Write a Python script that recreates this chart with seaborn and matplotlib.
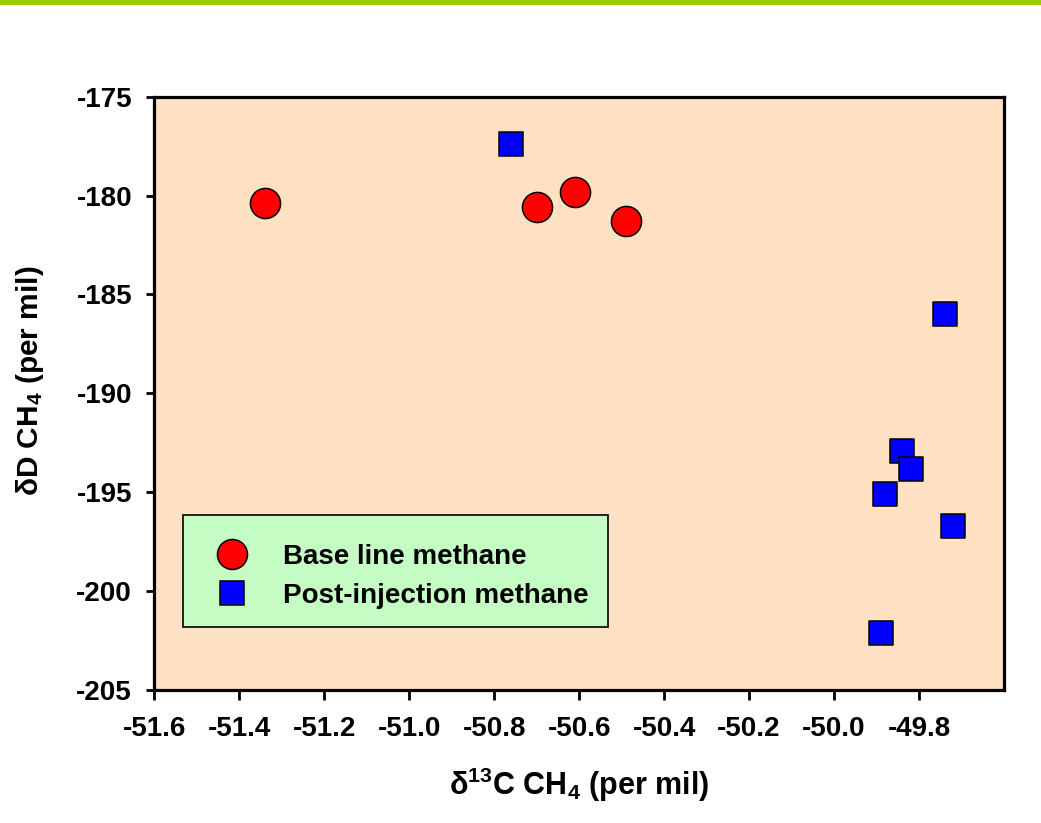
import matplotlib
matplotlib.use("Agg")
import matplotlib.pyplot as plt
from matplotlib.lines import Line2D
from matplotlib.patches import Rectangle
import seaborn as sns
import pandas as pd

# Isotope measurements (per mil)
baseline_d13c = [-51.34, -50.70, -50.61, -50.49]
baseline_dd = [-180.4, -180.6, -179.8, -181.3]
post_d13c = [-50.76, -49.74, -49.84, -49.82, -49.88, -49.72, -49.89]
post_dd = [-177.4, -186.0, -192.9, -193.8, -195.1, -196.7, -202.1]
series_names = ["Base line methane", "Post-injection methane"]
x_ticks = [-51.6, -51.4, -51.2, -51.0, -50.8, -50.6, -50.4, -50.2, -50.0, -49.8]
y_ticks = [-175, -180, -185, -190, -195, -200, -205]

sns.set_style("ticks")
plt.rcParams["font.family"] = ["Liberation Sans", "DejaVu Sans"]
plt.rcParams["font.weight"] = "bold"
plt.rcParams["text.color"] = "black"
plt.rcParams["axes.labelcolor"] = "black"
plt.rcParams["xtick.color"] = "black"
plt.rcParams["ytick.color"] = "black"
plt.rcParams["mathtext.fontset"] = "custom"
plt.rcParams["mathtext.rm"] = "Liberation Sans:bold"
plt.rcParams["mathtext.bf"] = "Liberation Sans:bold"
plt.rcParams["mathtext.default"] = "rm"

df = pd.DataFrame({
    "d13c": baseline_d13c + post_d13c,
    "dd": baseline_dd + post_dd,
    "series": [series_names[0]] * len(baseline_d13c) + [series_names[1]] * len(post_d13c),
})

fig = plt.figure(figsize=(10.41, 8.23), dpi=100)
fig.patch.set_facecolor("white")
ax = fig.add_axes([0.1482, 0.1616, 0.8163, 0.7209])
ax.set_facecolor("#FEE0C2")

# green banner along the top edge
fig.patches.append(Rectangle((0, 1 - 5 / 823), 1, 5 / 823, transform=fig.transFigure,
                             facecolor="#99CC00", edgecolor="none", zorder=5))

sns.scatterplot(data=df[df.series == series_names[0]], x="d13c", y="dd", ax=ax,
                marker="o", s=470, color="#FF0000", edgecolor="black", linewidth=1.1,
                legend=False, zorder=3)
sns.scatterplot(data=df[df.series == series_names[1]], x="d13c", y="dd", ax=ax,
                marker="s", s=300, color="#0000FF", edgecolor="black", linewidth=1.1,
                legend=False, zorder=3)

ax.set_xlim(-51.6, -49.6)
ax.set_ylim(-205, -175)
ax.set_xticks(x_ticks)
ax.set_xticklabels([f"{v:.1f}" for v in x_ticks])
ax.set_yticks(y_ticks)
ax.set_yticklabels([f"{v:d}" for v in y_ticks])

for sp in ax.spines.values():
    sp.set_visible(True)
    sp.set_color("black")
    sp.set_linewidth(2.3)

ax.tick_params(axis="x", direction="out", length=7, width=2, pad=12, labelsize=20, colors="black")
ax.tick_params(axis="y", direction="out", length=6, width=2, pad=10, labelsize=20, colors="black")
for lab in ax.get_xticklabels() + ax.get_yticklabels():
    lab.set_fontweight("bold")

ax.set_xlabel("δ$^{13}$C CH$_4$ (per mil)", fontsize=22, fontweight="bold")
ax.set_ylabel("δD CH$_4$ (per mil)", fontsize=21.5, fontweight="bold")
ax.xaxis.set_label_coords(0.5, -0.128)
ax.yaxis.set_label_coords(-0.1275, 0.521)

# legend panel
ax.add_patch(Rectangle((0.034, 0.1067), 0.5, 0.188, transform=ax.transAxes,
                       facecolor="#C4FCC4", edgecolor="black", linewidth=1.2, zorder=4))

handles = [
    Line2D([], [], linestyle="none", marker="o", markersize=21.6, markerfacecolor="#FF0000",
           markeredgecolor="black", markeredgewidth=1.1),
    Line2D([], [], linestyle="none", marker="s", markersize=17.3, markerfacecolor="#0000FF",
           markeredgecolor="black", markeredgewidth=1.1),
]
leg = ax.legend(handles, series_names, loc="center left",
                bbox_to_anchor=(0.062, 0.1913), frameon=False,
                prop={"size": 20, "weight": "bold"},
                borderpad=0, labelspacing=0.46, handlelength=1.8,
                handletextpad=0.95, borderaxespad=0)
leg.set_zorder(5)

fig.savefig("out.png", dpi=100, facecolor="white")
